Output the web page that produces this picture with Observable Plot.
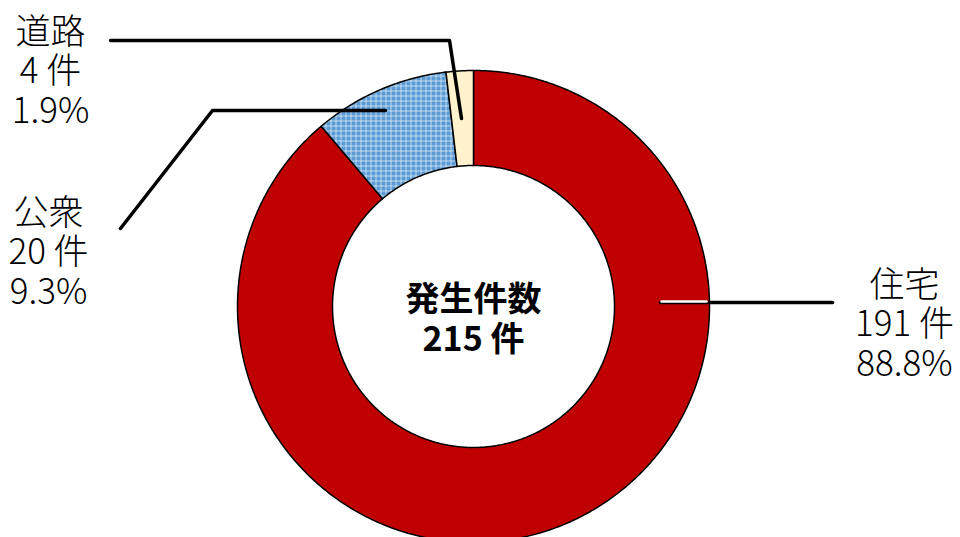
<!DOCTYPE html>
<html>
<head>
<meta charset="utf-8">
<script src="https://cdn.jsdelivr.net/npm/d3@7"></script>
<script src="https://cdn.jsdelivr.net/npm/@observablehq/plot@0.6"></script>
<style>
  html, body { margin: 0; padding: 0; background: #fff; }
  #chart { width: 960px; height: 537px; overflow: hidden; }
</style>
</head>
<body>
<div id="chart"></div>
<script>
// ---- data ----
const categories = ["住宅", "公衆", "道路"];
const counts = [191, 20, 4];
const fills = ["#C00000", "url(#koushuPattern)", "#FFF2CC"];
const centerTitle = "発生件数";
const unit = "件";

// ---- layout ----
const W = 960, H = 537;
const cx = 473, cy = 306, rOuter = 236, rInner = 141;
const labelPos = {"住宅": [904, 323], "公衆": [48, 251], "道路": [50, 70]};
const leaders = [
  {name: "道路", pts: [[461, 118], [449, 40], [110, 40]]},
  {name: "公衆", pts: [[385, 110], [212, 110], [120, 228]]},
  {name: "住宅", pts: [[660, 302], [832, 302]]}
];
const leaderInner = [{name: "住宅", pts: [[661, 301], [706, 301]]}];

const total = d3.sum(counts);
const rows = categories.map((c, i) => ({name: c, count: counts[i], fill: fills[i]}));
const arcs = d3.pie().sort(null).value(d => d.count).startAngle(0).endAngle(2 * Math.PI)(rows);

// polygon points for each slice
function slicePoints(a) {
  const pts = [];
  const n = Math.max(8, Math.ceil((a.endAngle - a.startAngle) / (Math.PI / 360)));
  for (let k = 0; k <= n; k++) {
    const t = a.startAngle + (a.endAngle - a.startAngle) * k / n;
    pts.push({name: a.data.name, x: cx + rOuter * Math.sin(t), y: cy - rOuter * Math.cos(t)});
  }
  for (let k = n; k >= 0; k--) {
    const t = a.startAngle + (a.endAngle - a.startAngle) * k / n;
    pts.push({name: a.data.name, x: cx + rInner * Math.sin(t), y: cy - rInner * Math.cos(t)});
  }
  pts.push({...pts[0]});
  return pts;
}

const sliceMarks = arcs.map(a => Plot.line(slicePoints(a), {
  x: "x", y: "y", fill: a.data.fill, stroke: "#000", strokeWidth: 1.5, strokeLinejoin: "round"
}));

const leaderMarks = leaders.map(l => Plot.line(l.pts.map(p => ({x: p[0], y: p[1]})), {
  x: "x", y: "y", stroke: "#000", strokeWidth: 3.5
}));
const leaderInnerMarks = leaderInner.map(l => Plot.line(l.pts.map(p => ({x: p[0], y: p[1]})), {
  x: "x", y: "y", stroke: "#fff", strokeWidth: 2.5
}));

const labels = rows.map(r => ({
  x: labelPos[r.name][0], y: labelPos[r.name][1],
  text: `${r.name}\n${r.count} ${unit}\n${(r.count / total * 100).toFixed(1)}%`
}));

const chart = Plot.plot({
  width: W, height: H,
  margin: 0,
  style: {background: "#fff", fontFamily: "'Noto Sans CJK JP', 'Noto Sans', sans-serif"},
  x: {domain: [0, W], range: [0, W], axis: null},
  y: {domain: [0, H], range: [0, H], axis: null},
  marks: [
    ...sliceMarks,
    ...leaderMarks,
    ...leaderInnerMarks,
    Plot.text(labels, {
      x: "x", y: "y", text: "text", fontSize: 35, lineHeight: 1.13,
      lineAnchor: "middle", textAnchor: "middle", fill: "#000", fontWeight: 300
    }),
    Plot.text([{x: cx, y: 318, text: `${centerTitle}\n${total} ${unit}`}], {
      x: "x", y: "y", text: "text", fontSize: 34, lineHeight: 1.17,
      lineAnchor: "middle", textAnchor: "middle", fill: "#000", fontWeight: "bold"
    })
  ]
});

// pattern definition for 公衆 slice
const ns = "http://www.w3.org/2000/svg";
const defs = document.createElementNS(ns, "defs");
defs.innerHTML = `
  <pattern id="koushuPattern" patternUnits="userSpaceOnUse" width="5" height="5">
    <rect x="0" y="0" width="5" height="5" fill="#5B9BD5"></rect>
    <rect x="0" y="0" width="5" height="1" fill="#ffffff" fill-opacity="0.6"></rect>
    <rect x="0" y="0" width="1" height="5" fill="#ffffff" fill-opacity="0.6"></rect>
  </pattern>`;
chart.insertBefore(defs, chart.firstChild);

document.getElementById("chart").appendChild(chart);
</script>
</body>
</html>
